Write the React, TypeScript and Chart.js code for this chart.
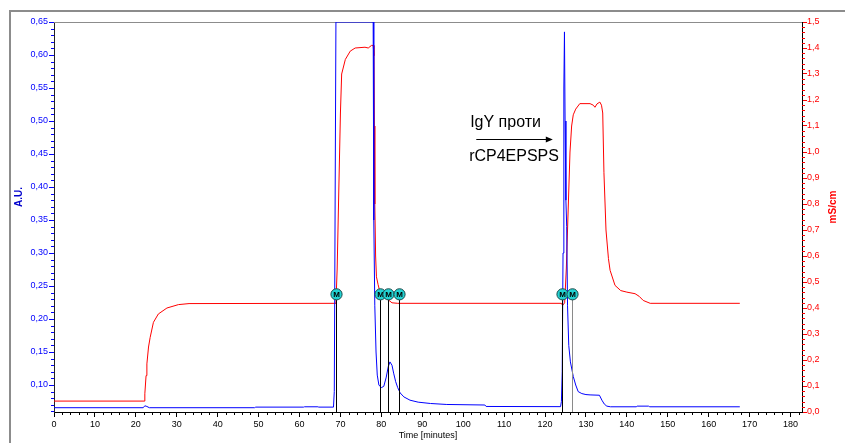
import React, { useEffect, useRef } from 'react';
import { Chart, registerables } from 'chart.js';

Chart.register(...registerables);

// ---- data ----
const timeTicks = [0, 10, 20, 30, 40, 50, 60, 70, 80, 90, 100, 110, 120, 130, 140, 150, 160, 170, 180];
const auTicks = [0.1, 0.15, 0.2, 0.25, 0.3, 0.35, 0.4, 0.45, 0.5, 0.55, 0.6, 0.65];
const condTicks = [0, 0.1, 0.2, 0.3, 0.4, 0.5, 0.6, 0.7, 0.8, 0.9, 1.0, 1.1, 1.2, 1.3, 1.4, 1.5];

const absTime = [
  0, 21.8, 22.2, 22.7, 23.3, 49.0, 49.3, 61.0, 61.2, 64.5, 64.7, 68.3, 68.5, 68.9,
  78.0, 78.15, 78.4, 78.7, 79.0, 79.4, 80.0, 80.6, 81.2, 81.7, 82.1, 82.6, 83.0, 83.5,
  84.0, 84.6, 85.5, 87, 89, 92, 96, 105.3, 105.6, 123.8, 124.0, 124.2, 124.4, 124.6,
  124.75, 124.9, 125.1, 125.3, 125.5, 125.8, 126.2, 126.9, 127.5, 128.1, 129, 130, 131,
  133.3, 133.9, 134.5, 135.1, 136, 142.3, 142.5, 145.3, 145.6, 167.6,
];
const absValue = [
  0.0656, 0.0656, 0.0685, 0.0675, 0.0656, 0.0656, 0.0665, 0.0665, 0.067, 0.067, 0.0665, 0.0665, 0.09, 0.65,
  0.65, 0.35, 0.22, 0.15, 0.115, 0.1, 0.096, 0.098, 0.112, 0.128, 0.135, 0.13, 0.118, 0.105,
  0.096, 0.088, 0.082, 0.077, 0.074, 0.072, 0.0705, 0.0697, 0.0675, 0.0672, 0.075, 0.12, 0.3, 0.55,
  0.635, 0.5, 0.38, 0.34, 0.22, 0.16, 0.135, 0.113, 0.1, 0.09, 0.087, 0.0855, 0.085,
  0.0845, 0.077, 0.071, 0.068, 0.067, 0.067, 0.068, 0.068, 0.067, 0.067,
];

const condTime = [
  0, 22.0, 22.2, 22.5, 22.7, 23.1, 23.5, 24.3, 25.5, 27.6, 30.4, 33, 68.9,
  69.2, 69.6, 70.0, 70.3, 71.2, 72.4, 73.6, 76, 76.8, 77.6, 78.0, 78.2, 78.3, 78.4, 78.6, 78.8,
  79.2, 79.7, 81, 82.6, 84, 124.0, 124.3, 124.8, 125.2, 125.7, 126.1, 126.5, 126.9, 127.5,
  128.5, 131, 131.8, 132.2, 132.7, 133.4, 133.8, 134.1, 134.4, 134.9, 135.5, 135.9, 137.1,
  138.5, 140, 142, 143, 144, 145.7, 167.6,
];
const condValue = [
  0.042, 0.042, 0.07, 0.14, 0.185, 0.25, 0.287, 0.345, 0.377, 0.4, 0.413, 0.417, 0.418,
  0.55, 0.85, 1.15, 1.3, 1.356, 1.388, 1.4, 1.403, 1.4, 1.41, 1.41, 1.37, 1.1, 0.8, 0.6, 0.52,
  0.49, 0.46, 0.44, 0.42, 0.418, 0.418, 0.41, 0.42, 0.55, 0.8, 1.0, 1.1, 1.143, 1.165,
  1.186, 1.186, 1.18, 1.172, 1.185, 1.192, 1.18, 1.15, 0.92, 0.7, 0.59, 0.545, 0.487,
  0.467, 0.461, 0.455, 0.445, 0.429, 0.418, 0.418,
];

const markerTimes = [68.9, 79.7, 81.7, 84.4, 124.2, 126.6];
const markerText = 'M';
const annotationTop = 'IgY проти';
const annotationBottom = 'rCP4EPSPS';
const xTitle = 'Time [minutes]';
const yTitle = 'A.U.';
const y2Title = 'mS/cm';

const FONT = '"Liberation Sans", Arial, sans-serif';
const BLUE = '#0000ff';
const RED = '#ff0000';

const overlay = {
  id: 'overlay',
  beforeDatasetsDraw(chart: any) {
    const { ctx, chartArea } = chart;
    ctx.save();
    // outer frame
    ctx.strokeStyle = '#8c8c8c';
    ctx.lineWidth = 2;
    ctx.beginPath();
    ctx.moveTo(10, chart.height);
    ctx.lineTo(10, 11);
    ctx.lineTo(chart.width, 11);
    ctx.stroke();
    // plot top border
    ctx.lineWidth = 1;
    ctx.beginPath();
    ctx.moveTo(chartArea.left, chartArea.top + 0.5);
    ctx.lineTo(chartArea.right, chartArea.top + 0.5);
    ctx.stroke();
    ctx.restore();
  },
  afterDraw(chart: any) {
    const { ctx, chartArea, scales } = chart;
    const xs = scales.x;
    const ys = scales.y;
    const y2s = scales.y2;
    ctx.save();

    // minor ticks
    ctx.lineWidth = 1;
    ctx.strokeStyle = BLUE;
    ctx.beginPath();
    for (let i = 6; i <= 65; i++) {
      if (i % 5 === 0) continue;
      const p = Math.round(ys.getPixelForValue(i / 100)) + 0.5;
      ctx.moveTo(chartArea.left - 3, p);
      ctx.lineTo(chartArea.left, p);
    }
    ctx.stroke();
    ctx.strokeStyle = RED;
    ctx.beginPath();
    for (let i = 0; i <= 75; i++) {
      if (i % 5 === 0) continue;
      const p = Math.round(y2s.getPixelForValue(i * 0.02)) + 0.5;
      ctx.moveTo(chartArea.right, p);
      ctx.lineTo(chartArea.right + 3, p);
    }
    ctx.stroke();
    ctx.strokeStyle = '#000';
    ctx.beginPath();
    for (let i = 0; i <= 91; i++) {
      if (i % 5 === 0) continue;
      const p = Math.round(xs.getPixelForValue(i * 2)) + 0.5;
      if (p > chartArea.right) continue;
      ctx.moveTo(p, chartArea.bottom);
      ctx.lineTo(p, chartArea.bottom + 3);
    }
    ctx.stroke();

    // axis titles
    ctx.font = `bold 10px ${FONT}`;
    ctx.textAlign = 'center';
    ctx.textBaseline = 'middle';
    ctx.fillStyle = '#0000cc';
    ctx.save();
    ctx.translate(19, 197);
    ctx.rotate(-Math.PI / 2);
    ctx.fillText(yTitle, 0, 0);
    ctx.restore();
    ctx.fillStyle = RED;
    ctx.save();
    ctx.translate(833, 207);
    ctx.rotate(-Math.PI / 2);
    ctx.fillText(y2Title, 0, 0);
    ctx.restore();

    ctx.font = `9px ${FONT}`;
    ctx.fillStyle = '#000';
    ctx.fillText(xTitle, (chartArea.left + chartArea.right) / 2, 436);

    // markers
    const my = ys.getPixelForValue(0.2374);
    markerTimes.forEach((t, i) => {
      const px = Math.round(xs.getPixelForValue(t)) + 0.5;
      ctx.strokeStyle = i === markerTimes.length - 1 ? '#8a8a8a' : '#000';
      ctx.lineWidth = 1;
      ctx.beginPath();
      ctx.moveTo(px, my);
      ctx.lineTo(px, chartArea.bottom);
      ctx.stroke();
    });
    markerTimes.forEach((t) => {
      const px = Math.round(xs.getPixelForValue(t)) + 0.5;
      ctx.beginPath();
      ctx.arc(px, my, 5.6, 0, Math.PI * 2);
      ctx.fillStyle = '#22d2d2';
      ctx.fill();
      ctx.strokeStyle = '#1a4a4a';
      ctx.lineWidth = 1;
      ctx.stroke();
      ctx.fillStyle = '#000';
      ctx.font = `bold 8px ${FONT}`;
      ctx.textAlign = 'center';
      ctx.textBaseline = 'middle';
      ctx.fillText(markerText, px, my + 0.5);
    });

    // annotation
    ctx.fillStyle = '#000';
    ctx.font = `16px ${FONT}`;
    ctx.textAlign = 'left';
    ctx.textBaseline = 'middle';
    const ax = xs.getPixelForValue(101.7);
    ctx.fillText(annotationTop, ax, ys.getPixelForValue(0.497));
    ctx.fillText(annotationBottom, ax - 1, ys.getPixelForValue(0.4455));
    const ay = Math.round(ys.getPixelForValue(0.472)) + 0.5;
    const a1 = xs.getPixelForValue(103.2);
    const a2 = xs.getPixelForValue(121.9);
    ctx.strokeStyle = '#000';
    ctx.lineWidth = 1;
    ctx.beginPath();
    ctx.moveTo(a1, ay);
    ctx.lineTo(a2 - 4, ay);
    ctx.stroke();
    ctx.beginPath();
    ctx.moveTo(a2, ay);
    ctx.lineTo(a2 - 7, ay - 3);
    ctx.lineTo(a2 - 7, ay + 3);
    ctx.closePath();
    ctx.fill();

    ctx.restore();
  },
};

export default function App() {
  const ref = useRef<HTMLCanvasElement | null>(null);
  useEffect(() => {
    if (!ref.current) return;
    const absData = absTime.map((t, i) => ({ x: t, y: absValue[i] }));
    const condData = condTime.map((t, i) => ({ x: t, y: condValue[i] }));
    const chart = new Chart(ref.current, {
      type: 'line',
      data: {
        datasets: [
          {
            label: 'A.U.',
            data: absData,
            yAxisID: 'y',
            borderColor: BLUE,
            borderWidth: 1,
            pointRadius: 0,
            tension: 0,
          },
          {
            label: 'mS/cm',
            data: condData,
            yAxisID: 'y2',
            borderColor: RED,
            borderWidth: 1,
            pointRadius: 0,
            tension: 0,
          },
        ],
      },
      options: {
        responsive: false,
        animation: false,
        events: [],
        layout: { padding: { top: 22, left: 0, right: 0, bottom: 0 } },
        plugins: { legend: { display: false }, tooltip: { enabled: false } },
        scales: {
          x: {
            type: 'linear',
            min: 0,
            max: 182.8,
            afterBuildTicks: (s: any) => {
              s.ticks = timeTicks.map((v) => ({ value: v }));
            },
            afterFit: (s: any) => {
              s.height = 31;
            },
            ticks: {
              color: '#000',
              font: { size: 9, family: FONT },
              padding: 2,
              maxRotation: 0,
              autoSkip: false,
              callback: (v: any) => String(v),
            },
            grid: { drawOnChartArea: false, drawTicks: true, tickLength: 5, color: '#000' },
            border: { color: '#000', width: 1 },
          },
          y: {
            type: 'linear',
            position: 'left',
            min: 0.0591,
            max: 0.65,
            afterBuildTicks: (s: any) => {
              s.ticks = auTicks.map((v) => ({ value: v }));
            },
            afterFit: (s: any) => {
              s.width = 54;
            },
            ticks: {
              color: BLUE,
              font: { size: 9, family: FONT },
              padding: 1,
              autoSkip: false,
              callback: (v: any) => Number(v).toFixed(2).replace('.', ','),
            },
            grid: { drawOnChartArea: false, drawTicks: true, tickLength: 5, color: BLUE },
            border: { color: '#222', width: 1 },
          },
          y2: {
            type: 'linear',
            position: 'right',
            min: 0,
            max: 1.5,
            afterBuildTicks: (s: any) => {
              s.ticks = condTicks.map((v) => ({ value: v }));
            },
            afterFit: (s: any) => {
              s.width = 43;
            },
            ticks: {
              color: RED,
              font: { size: 9, family: FONT },
              padding: 0,
              autoSkip: false,
              callback: (v: any) => Number(v).toFixed(1).replace('.', ','),
            },
            grid: { drawOnChartArea: false, drawTicks: true, tickLength: 5, color: RED },
            border: { color: '#000', width: 1 },
          },
        },
      },
      plugins: [overlay],
    });
    return () => chart.destroy();
  }, []);

  return (
    <div style={{ position: 'fixed', left: 0, top: 0, width: 845, height: 443, background: '#fff' }}>
      <canvas ref={ref} width={845} height={443} style={{ display: 'block', width: 845, height: 443 }} />
    </div>
  );
}
